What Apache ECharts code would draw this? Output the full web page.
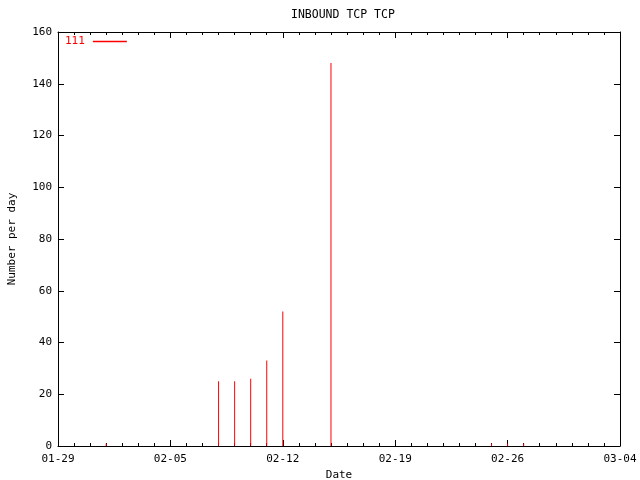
<!DOCTYPE html>
<html>
<head>
<meta charset="utf-8">
<script src="https://cdn.jsdelivr.net/npm/echarts@6/dist/echarts.min.js"></script>
<style>html,body{margin:0;padding:0;background:#fff}#c{width:640px;height:480px}</style>
</head>
<body>
<div id="c"></div>
<script>
var YEAR = '2004';
var startDate = '01-29';
var tickLabels = ['01-29', '02-05', '02-12', '02-19', '02-26', '03-04'];
var dates = ['02-01', '02-08', '02-09', '02-10', '02-11', '02-12', '02-15', '02-25', '02-26', '02-27'];
var values = [1, 25, 25, 26, 33, 52, 148, 1, 1, 1];
var yTicks = [0, 20, 40, 60, 80, 100, 120, 140, 160];
var seriesName = '111';

function dayIndex(md) {
  return Math.round((Date.parse(YEAR + '-' + md + 'T00:00:00Z') - Date.parse(YEAR + '-' + startDate + 'T00:00:00Z')) / 86400000);
}
var tickDays = tickLabels.map(dayIndex);
var labelMap = {};
tickLabels.forEach(function (t, i) { labelMap[tickDays[i]] = t; });
var data = dates.map(function (d, i) { return [dayIndex(d), values[i]]; });

var FONT = 'DejaVu Sans Mono';
var txt = { fontFamily: FONT, fontSize: 11, color: '#000' };
var xMin = tickDays[0], xMax = tickDays[tickDays.length - 1];
var yMin = yTicks[0], yMax = yTicks[yTicks.length - 1];

function xAx(pos, show) {
  return {
    type: 'value', position: pos, min: xMin, max: xMax, interval: 7,
    axisLine: { show: true, onZero: false, lineStyle: { color: '#000', width: 1 } },
    axisTick: { show: true, inside: true, length: 6, lineStyle: { color: '#000' } },
    minorTick: { show: true, splitNumber: 7, length: 3, lineStyle: { color: '#000' } },
    splitLine: { show: false }, minorSplitLine: { show: false },
    axisLabel: show ? Object.assign({ show: true, margin: 8, formatter: function (v) { return labelMap[v] || ''; } }, txt) : { show: false },
    name: show ? 'Date' : '', nameLocation: 'middle', nameGap: 22, nameTextStyle: txt
  };
}
function yAx(pos, show) {
  return {
    type: 'value', position: pos, min: yMin, max: yMax, interval: 20,
    axisLine: { show: true, onZero: false, lineStyle: { color: '#000', width: 1 } },
    axisTick: { show: true, inside: true, length: 6, lineStyle: { color: '#000' } },
    splitLine: { show: false },
    axisLabel: show ? Object.assign({ show: true, margin: 6 }, txt) : { show: false },
    name: show ? 'Number per day' : '', nameLocation: 'middle', nameGap: 40, nameRotate: 90, nameTextStyle: txt
  };
}

var chart = echarts.init(document.getElementById('c'), null, { renderer: 'canvas' });
chart.setOption({
  animation: false,
  backgroundColor: '#fff',
  title: { text: 'INBOUND TCP TCP', left: 286, top: 4, textStyle: { fontFamily: FONT, fontSize: 11.5, fontWeight: 'normal', color: '#000' } },
  grid: { left: 58, right: 20, top: 32, bottom: 34, containLabel: false, outerBoundsMode: 'none' },
  legend: {
    show: true, left: 65, top: 36, padding: 0, align: 'right', icon: 'rect', itemWidth: 34, itemHeight: 1.5, itemGap: 0,
    textStyle: { fontFamily: FONT, fontSize: 11, color: '#ff0000', padding: [0, 3, 0, 0] },
    data: [seriesName]
  },
  xAxis: [xAx('bottom', true), xAx('top', false)],
  yAxis: [yAx('left', true), yAx('right', false)],
  series: [{
    name: seriesName, type: 'bar', xAxisIndex: 0, yAxisIndex: 0, barWidth: 1,
    itemStyle: { color: '#ff0000' }, data: data
  }]
});
</script>
</body>
</html>
